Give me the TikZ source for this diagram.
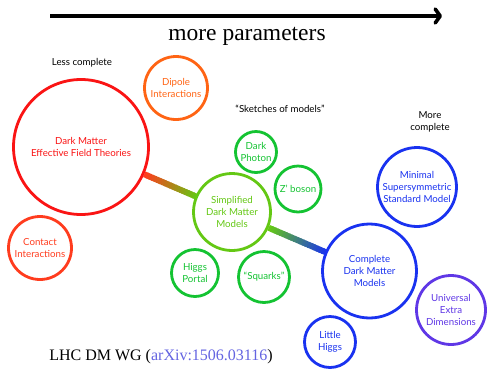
\documentclass[tikz,border=0pt]{standalone}
\usepackage{fontspec}
\setmainfont{Liberation Serif}
\newfontfamily\gill{Lato}
\usetikzlibrary{calc,arrows.meta,backgrounds}
\definecolor{eftred}{RGB}{250,20,20}
\definecolor{dipor}{RGB}{255,100,20}
\definecolor{conor}{RGB}{255,60,30}
\definecolor{smpgreen}{RGB}{100,200,20}
\definecolor{modgreen}{RGB}{20,195,50}
\definecolor{cmpblue}{RGB}{25,50,240}
\definecolor{uedpurple}{RGB}{95,55,230}
\definecolor{arxblue}{RGB}{100,100,225}
\tikzset{
  bubble/.style={circle, draw=#1, text=#1, fill=white, line width=2.8pt,
    inner sep=0pt, align=center, font=\gill\fontsize{9.7}{12}\selectfont},
  lbl/.style={align=center, font=\gill\fontsize{9.7}{12}\selectfont},
  bar/.style={line width=6pt, line cap=butt}
}
\begin{document}
\begin{tikzpicture}[x=1pt, y=-1pt]
    \useasboundingbox (0, 0) rectangle (487, 368) ;
    %--- Fleche
      \coordinate (arrL) at (50, 16) ;
      \coordinate (arrR) at (442, 16) ;
      \draw[line width=3.6pt, -{Straight Barb[length=5pt, width=14pt, round]}] (arrL) -- (arrR) ;
      \node[font=\fontsize{23.5}{26}\selectfont] (param) at (247, 36) {more parameters} ;
    %--- Moins complet
      \node[lbl] (less) at (82, 63) {Less complete} ;
      \node[bubble=eftred, minimum size=135pt] (eft) at (81, 147) {Dark Matter\\Effective Field Theories} ;
      \node[bubble=dipor, minimum size=63pt] (dip) at (176, 88) {Dipole\\Interactions} ;
      \node[bubble=conor, minimum size=63pt] (cont) at (40, 248) {Contact\\Interactions} ;
    %--- Modeles simplifies
      \node[lbl] (sketch) at (280, 109) {“Sketches of models”} ;
      \node[bubble=smpgreen, minimum size=77pt] (smp) at (232, 212) {Simplified\\Dark Matter\\Models} ;
      \node[bubble=modgreen, minimum size=41pt] (dph) at (256, 152) {Dark\\Photon} ;
      \node[bubble=modgreen, minimum size=46pt] (zpr) at (298, 189) {Z’ boson} ;
      \node[bubble=modgreen, minimum size=47pt] (hig) at (195, 273) {Higgs\\Portal} ;
      \node[bubble=modgreen, minimum size=51pt] (sqk) at (264, 277) {“Squarks”} ;
    %--- Modeles complets
      \node[lbl] (more) at (430, 122) {More\\complete} ;
      \node[bubble=cmpblue, minimum size=94pt] (cmp) at (369.5, 271) {Complete\\Dark Matter\\Models} ;
      \node[bubble=cmpblue, minimum size=79pt] (mssm) at (417, 187) {Minimal\\Supersymmetric\\Standard Model} ;
      \node[bubble=uedpurple, minimum size=69pt] (ued) at (451, 310) {Universal\\Extra\\Dimensions} ;
      \node[bubble=cmpblue, minimum size=51pt] (lhg) at (330, 342) {Little\\Higgs} ;
    %--- Barres degradees
      \path (eft) -- (smp) coordinate[pos=0] (b1s) coordinate[pos=1] (b1e) ;
      \path (smp) -- (cmp) coordinate[pos=0] (b2s) coordinate[pos=1] (b2e) ;
      \begin{pgfonlayer}{background}
        \foreach \i in {0,...,19} {
          \pgfmathsetmacro\t{\i/20}
          \pgfmathsetmacro\u{(\i+1.5)/20}
          \pgfmathtruncatemacro\p{100-5*\i}
          \draw[bar, conor!\p!smpgreen] ($(b1s)!\t!(b1e)$) -- ($(b1s)!\u!(b1e)$) ;
          \draw[bar, smpgreen!\p!cmpblue] ($(b2s)!\t!(b2e)$) -- ($(b2s)!\u!(b2e)$) ;
        }
      \end{pgfonlayer}
    %--- Reference
      \node[font=\fontsize{16}{18}\selectfont] (ref) at (161, 357) {LHC DM WG (\textcolor{arxblue}{arXiv:1506.03116})} ;
\end{tikzpicture}
\end{document}
